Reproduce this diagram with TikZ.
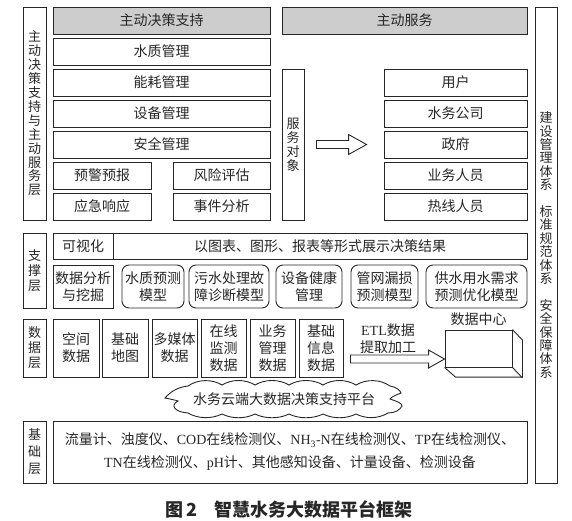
\documentclass[tikz,border=0pt]{standalone}
\usepackage{fontspec}
\setmainfont{Noto Sans CJK SC}
\newfontfamily\latinfont{Liberation Serif}
\usetikzlibrary{calc,positioning}
\definecolor{headgray}{HTML}{CDCDCD}
\definecolor{ink}{HTML}{262626}
\newcommand{\hollowarrow}[4]{%
  \draw[line width=0.9pt,draw=ink]
    ([yshift=4pt]#1) -- ([xshift=-#3,yshift=4pt]#2) -- ([xshift=-#3,yshift=#4]#2)
    -- (#2) -- ([xshift=-#3,yshift=-#4]#2) -- ([xshift=-#3,yshift=-4pt]#2)
    -- ([yshift=-4pt]#1) -- cycle;}

\begin{document}
\begin{tikzpicture}[x=1pt,y=-1pt,
    every node/.style={inner sep=0pt,align=center,text=ink,font=\fontsize{14}{16.7}\selectfont},
    cell/.style={draw=ink,line width=0.9pt},
    head/.style={cell,fill=headgray},
    model/.style={cell,rounded corners=7pt},
    layer/.style={cell,font=\fontsize{13}{15}\selectfont}]
\useasboundingbox (0,0) rectangle (572,521);

\node[layer,minimum width=23,minimum height=213,font=\fontsize{13}{13.9}\selectfont] (servicelayer) at (34.5,113.5) {主\\动\\决\\策\\支\\持\\与\\主\\动\\服\\务\\层};
\node[head,minimum width=217,minimum height=27] (decision) at (161.5,20.5) {主动决策支持};
\node[head,minimum width=245,minimum height=27] (service) at (404.5,20.5) {主动服务};
\node[cell,minimum width=217,minimum height=27] (water) at (161.5,51.5) {水质管理};
\node[cell,minimum width=217,minimum height=27] (energy) at (161.5,82.5) {能耗管理};
\node[cell,minimum width=217,minimum height=27] (equip) at (161.5,113.5) {设备管理};
\node[cell,minimum width=217,minimum height=27] (safety) at (161.5,144.5) {安全管理};
\node[cell,minimum width=98,minimum height=27] (warning) at (102,175.5) {预警预报};
\node[cell,minimum width=97,minimum height=27] (risk) at (221.5,175.5) {风险评估};
\node[cell,minimum width=98,minimum height=27] (emergency) at (102,206.5) {应急响应};
\node[cell,minimum width=97,minimum height=27] (event) at (221.5,206.5) {事件分析};

\node[layer,minimum width=22,minimum height=151,font=\fontsize{13}{14}\selectfont] (target) at (293,144.5) {服\\务\\对\\象};
\node[cell,minimum width=143,minimum height=27] (user) at (455.5,82.5) {用户};
\node[cell,minimum width=143,minimum height=27] (company) at (455.5,113.5) {水务公司};
\node[cell,minimum width=143,minimum height=27] (gov) at (455.5,144.5) {政府};
\node[cell,minimum width=143,minimum height=27] (staff) at (455.5,175.5) {业务人员};
\node[cell,minimum width=143,minimum height=27] (hotline) at (455.5,206.5) {热线人员};
\coordinate (arrowA) at ($(target.east)+(12,0)$);
\coordinate (arrowB) at ($(gov.west)+(-17,0)$);
\hollowarrow{arrowA}{arrowB}{18pt}{10pt}

\node[layer,minimum width=22,minimum height=476,font=\fontsize{13}{13.4}\selectfont] (system) at (546,245) {建\\设\\管\\理\\体\\系\\[13.4pt]标\\准\\规\\范\\体\\系\\[13.4pt]安\\全\\保\\障\\体\\系};

\node[layer,minimum width=23,minimum height=75] (supportlayer) at (34.5,270.5) {支\\撑\\层};
\node[cell,minimum width=60,minimum height=26] (visual) at (83,246) {可视化};
\node[cell,minimum width=414,minimum height=26] (display) at (320,246) {以图表、图形、报表等形式展示决策结果};
\node[cell,minimum width=60,minimum height=43] (mining) at (83,286.5) {数据分析\\与挖掘};
\node[model,minimum width=62,minimum height=43] (wqmodel) at (153,286.5) {水质预测\\模型};
\node[model,minimum width=80,minimum height=43] (faultmodel) at (229,286.5) {污水处理故\\障诊断模型};
\node[model,minimum width=66,minimum height=43] (health) at (309,286.5) {设备健康\\管理};
\node[model,minimum width=67,minimum height=43] (leakmodel) at (384.5,286.5) {管网漏损\\预测模型};
\node[model,minimum width=101,minimum height=43] (demandmodel) at (476.5,286.5) {供水用水需求\\预测优化模型};

\node[layer,minimum width=23,minimum height=58] (datalayer) at (34.5,348) {数\\据\\层};
\node[cell,minimum width=46,minimum height=58] (spatial) at (76,348) {空间\\数据};
\node[cell,minimum width=46,minimum height=58] (basemap) at (125,348) {基础\\地图};
\node[cell,minimum width=45,minimum height=58] (media) at (174.5,348) {多媒体\\数据};
\node[cell,minimum width=45,minimum height=58] (online) at (223.5,348) {在线\\监测\\数据};
\node[cell,minimum width=45,minimum height=58] (business) at (272.5,348) {业务\\管理\\数据};
\node[cell,minimum width=44,minimum height=58] (basicinfo) at (321,348) {基础\\信息\\数据};

\node[cell,minimum width=67,minimum height=37] (datacenter) at (478.5,348.5) {};
\draw[line width=0.9pt,draw=ink] (datacenter.north east) -- ++(10,10.5) -- ++(0,37) -- ++(-67,0) -- (datacenter.south west);
\draw[line width=0.9pt,draw=ink] (datacenter.south east) -- ++(10,10.5);
\node[above=4pt of datacenter] (dclabel) {数据中心};
\coordinate (etlA) at ($(basicinfo.east)+(7,11)$);
\coordinate (etlB) at ($(datacenter.west)+(0,10.5)$);
\hollowarrow{etlA}{etlB}{16pt}{9pt}
\node (etl) at (388,338.5) {{\latinfont ETL}数据\\提取加工};

\node (platform) at (284,399) {水务云端大数据决策支持平台};
\draw[line width=0.9pt,draw=ink] (188,386)
  .. controls (198,379) and (212,379) .. (222,385)
  .. controls (232,379) and (245,379) .. (255,385)
  .. controls (265,379) and (279,379) .. (289,385)
  .. controls (299,379) and (313,379) .. (323,385)
  .. controls (333,379) and (346,379) .. (356,385)
  .. controls (366,379) and (380,379) .. (390,386)
  .. controls (396,387) and (400,390) .. (401,393)
  .. controls (396,395) and (391,397) .. (390,399)
  .. controls (396,401) and (402,403) .. (402,406)
  .. controls (400,410) and (395,413) .. (388,413)
  .. controls (378,419) and (366,419) .. (356,414)
  .. controls (346,419) and (333,419) .. (323,414)
  .. controls (313,419) and (299,419) .. (289,414)
  .. controls (279,419) and (265,419) .. (255,414)
  .. controls (245,419) and (232,419) .. (222,414)
  .. controls (212,419) and (198,419) .. (188,413)
  .. controls (174,412) and (170,405) .. (178,401)
  .. controls (175,400) and (170,399) .. (165,398)
  .. controls (170,392) and (178,387) .. (188,386) -- cycle;

\node[layer,minimum width=23,minimum height=62,font=\fontsize{13}{17}\selectfont] (baselayer) at (34.5,452) {基\\础\\层};
\node[cell,minimum width=474,minimum height=62,font=\fontsize{14}{23}\selectfont] (devices) at (290,452) {流量计、浊度仪、{\latinfont COD}在线检测仪、{\latinfont NH\textsubscript{3}-N}在线检测仪、{\latinfont TP}在线检测仪、\\{\latinfont TN}在线检测仪、{\latinfont pH}计、其他感知设备、计量设备、检测设备};

\node[font=\fontsize{18}{20}\selectfont\bfseries] (caption) at (289,509) {图\,2\hspace{0.9em}智慧水务大数据平台框架};
\end{tikzpicture}
\end{document}
